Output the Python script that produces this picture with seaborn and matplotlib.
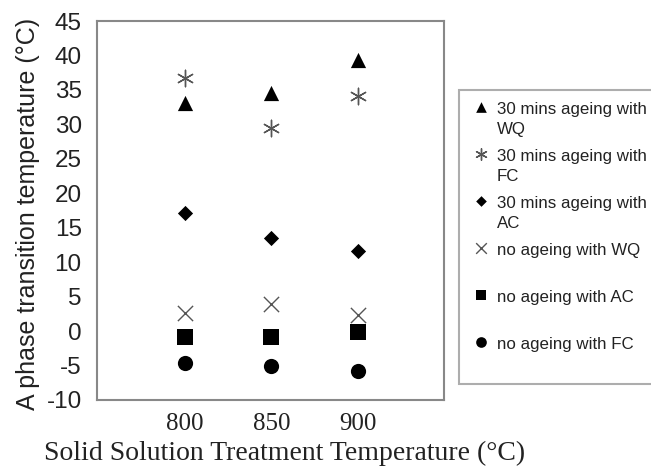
import numpy as np
import pandas as pd
import matplotlib
matplotlib.use("Agg")
import matplotlib.pyplot as plt
from matplotlib.legend_handler import HandlerPathCollection
import seaborn as sns

# solid solution treatment temperatures (x)
temps = [800, 850, 900]

# A phase transition temperature for each treatment
aged_wq = [33.1, 34.6, 39.4]
aged_fc = [36.7, 29.4, 34.1]
aged_ac = [17.2, 13.5, 11.6]
noage_wq = [2.6, 4.0, 2.3]
noage_ac = [-0.8, -0.9, -0.1]
noage_fc = [-4.7, -5.1, -5.8]

# every label is two lines so the legend rows keep the same pitch
series_labels = [
    "30 mins ageing with\nWQ",
    "30 mins ageing with\nFC",
    "30 mins ageing with\nAC",
    "no ageing with WQ\n ",
    "no ageing with AC\n ",
    "no ageing with FC\n ",
]
y_ticks = list(range(-10, 50, 5))

sns.set_style("white")
plt.rcParams["font.family"] = ["Liberation Sans", "DejaVu Sans"]
plt.rcParams["axes.unicode_minus"] = False

fig = plt.figure(figsize=(6.51, 4.68), dpi=100)
ax = fig.add_axes([97 / 651, 68 / 468, 347 / 651, 379 / 468])

# marker style per series: (marker, colour, size, linewidth)
styles = [
    ("^", "black", 120, 0),
    ((6, 2, 0), "#555555", 140, 1.0),
    ("D", "black", 60, 0),
    ("x", "#555555", 120, 1.0),
    ("s", "black", 120, 0),
    ("o", "black", 120, 0),
]
all_vals = [aged_wq, aged_fc, aged_ac, noage_wq, noage_ac, noage_fc]

for vals, lab, (m, c, s, lw) in zip(all_vals, series_labels, styles):
    df = pd.DataFrame({"temp": temps, "value": vals})
    if lw == 0:
        sns.scatterplot(data=df, x="temp", y="value", marker=m, color=c, s=s,
                        edgecolor=c, linewidth=0, label=lab, ax=ax)
    else:
        sns.scatterplot(data=df, x="temp", y="value", marker=m, color=c, s=s,
                        linewidth=lw, label=lab, ax=ax)

ax.set_xlim(749, 950)
ax.set_ylim(-10, 45)
ax.set_yticks(y_ticks)
ax.set_xticks(temps)
ax.set_xticklabels([str(t) for t in temps], family="Liberation Serif", fontsize=18)
ax.tick_params(axis="y", direction="in", length=7, width=1, color="#888888",
               labelsize=17.5, pad=11, labelcolor="#222222")
ax.tick_params(axis="x", length=0, pad=9, labelcolor="#222222")
for sp in ax.spines.values():
    sp.set_color("#888888")
    sp.set_linewidth(1.5)

ax.set_ylabel("A phase transition temperature (°C)", fontsize=18, color="#222222")
ax.yaxis.set_label_coords(-0.165, 0.49)
ax.set_xlabel("Solid Solution Treatment Temperature (°C)", family="Liberation Serif",
              fontsize=20, color="#222222")
ax.xaxis.set_label_coords(0.54, -0.108)

handles, labels = ax.get_legend_handles_labels()
ax.get_legend().remove()
# lift each legend marker to the first text line
hmap = {h: HandlerPathCollection(yoffsets=[1.5]) for h in handles}
leg = fig.legend(handles, labels, loc="upper left",
                 bbox_to_anchor=(459 / 651, 1 - 90 / 468), borderaxespad=0,
                 fontsize=12.2, frameon=True, fancybox=False,
                 edgecolor="#999999", handletextpad=0.35, handlelength=1.2,
                 labelspacing=0.72, borderpad=0.7, markerscale=0.7,
                 handler_map=hmap)
leg.get_frame().set_linewidth(1.5)
for t in leg.get_texts():
    t.set_color("#222222")
    t.set_linespacing(1.4)

fig.savefig("out.png", dpi=100)
